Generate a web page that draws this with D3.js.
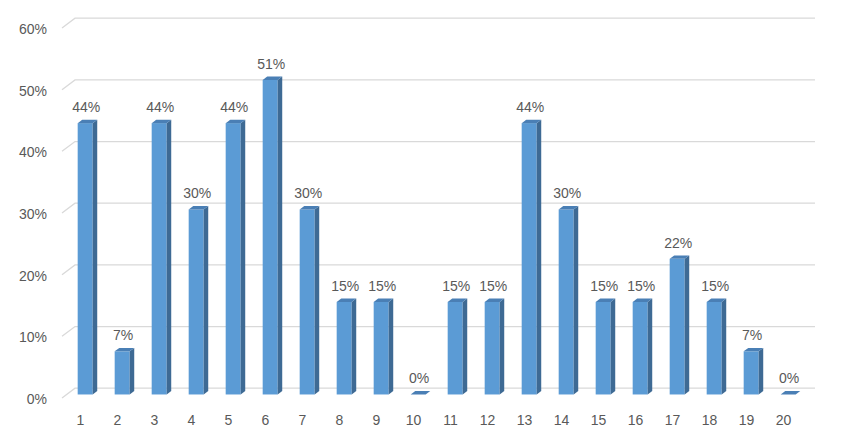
<!DOCTYPE html>
<html>
<head>
<meta charset="utf-8">
<script src="https://cdn.jsdelivr.net/npm/d3@7"></script>
<style>
  html, body { margin: 0; padding: 0; background: #fff; }
  svg { display: block; }
  text { font-family: "Liberation Sans", Arial, sans-serif; fill: #595959; }
</style>
</head>
<body>
<svg id="chart" width="843" height="441"></svg>
<script>
const categories = ["1","2","3","4","5","6","7","8","9","10","11","12","13","14","15","16","17","18","19","20"];
const values = [0.44,0.07,0.44,0.30,0.44,0.51,0.30,0.15,0.15,0.00,0.15,0.15,0.44,0.30,0.15,0.15,0.22,0.15,0.07,0.00];
const yTicks = [0,0.1,0.2,0.3,0.4,0.5,0.6];

const svg = d3.select("#chart");
// front plane
const x = d3.scaleBand().domain(categories).range([62, 802]).paddingInner(0).paddingOuter(0);
const y = d3.scaleLinear().domain([0, 0.6]).range([398, 28]);
const depthDX = 13, depthDY = -9.8;   // full depth of floor/walls
const barF = 0.36, barD = 0.35;        // bar front position & depth (fraction)
const barW = 15;

// gridlines (back wall + floor diagonal)
const grid = svg.append("g");
yTicks.forEach(t => {
  const yf = y(t);
  grid.append("path")
    .attr("d", `M${x.range()[0]},${yf} L${x.range()[0] + depthDX},${yf + depthDY} L${x.range()[1] + depthDX},${yf + depthDY}`)
    .attr("fill", "none").attr("stroke", "#d9d9d9").attr("stroke-width", 1.3);
});

// y axis labels
const yFmt = d3.format(".0%");
svg.append("g").selectAll("text").data(yTicks).join("text")
  .attr("x", 47).attr("y", d => y(d) + 1)
  .attr("text-anchor", "end").attr("dominant-baseline", "central")
  .attr("font-size", 14).text(d => yFmt(d));

// x axis labels
svg.append("g").selectAll("text").data(categories).join("text")
  .attr("x", d => x(d) + x.bandwidth() / 2)
  .attr("y", 420).attr("text-anchor", "middle").attr("dominant-baseline", "central")
  .attr("font-size", 14).text(d => d);

// bars
const ox = depthDX * barF, oy = depthDY * barF;
const dx = depthDX * barD, dy = depthDY * barD;
const bars = svg.append("g");
categories.forEach((c, i) => {
  const v = values[i];
  const cx = x(c) + x.bandwidth() / 2 + ox;
  const x0 = cx - barW / 2, x1 = cx + barW / 2;
  const yb = y(0) + oy, yt = y(v) + oy;
  const g = bars.append("g");
  if (v > 0) {
    g.append("rect").attr("x", x0).attr("y", yt).attr("width", barW).attr("height", yb - yt).attr("fill", "#5b9bd5");
    g.append("path").attr("d", `M${x1},${yt} L${x1 + dx},${yt + dy} L${x1 + dx},${yb + dy} L${x1},${yb} Z`).attr("fill", "#3e6a94");
  }
  g.append("path").attr("d", `M${x0},${yt} L${x0 + dx},${yt + dy} L${x1 + dx},${yt + dy} L${x1},${yt} Z`).attr("fill", "#4a7fb5");
  // label
  svg.append("text")
    .attr("x", cx + 1).attr("y", yt - 11)
    .attr("text-anchor", "middle").attr("font-size", 14)
    .text(yFmt(v));
});
</script>
</body>
</html>
